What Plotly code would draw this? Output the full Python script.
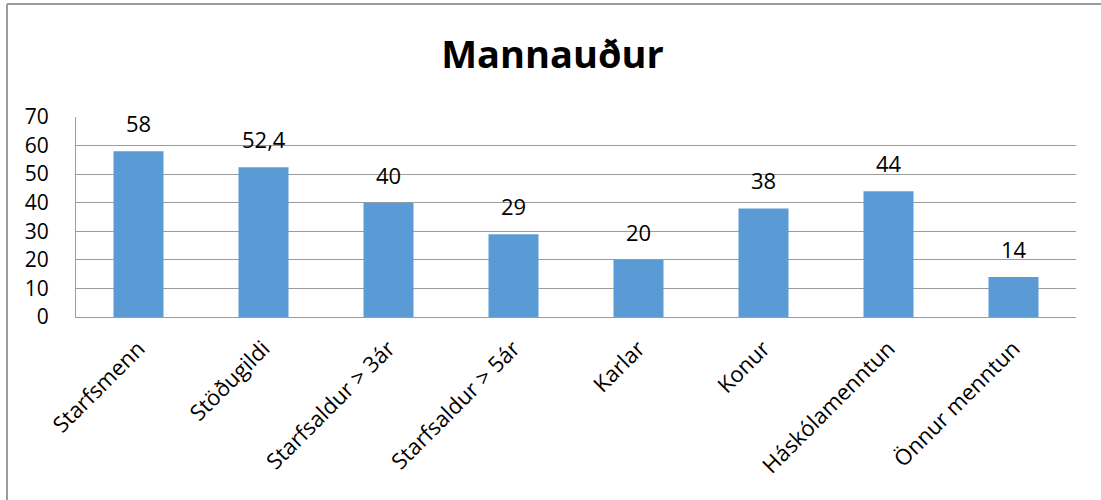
import plotly.graph_objects as go

categories = ["Starfsmenn", "Stöðugildi", "Starfsaldur > 3ár", "Starfsaldur > 5ár",
              "Karlar", "Konur", "Háskólamenntun", "Önnur menntun"]
values = [58, 52.4, 40, 29, 20, 38, 44, 14]
value_labels = ["58", "52,4", "40", "29", "20", "38", "44", "14"]
title_text = "Mannauður"

W, H = 1101, 500
FONT = "Open Sans"
GRID = "#9C9C9C"
L, R, T, B = 76, 25, 117, 183
PH = H - T - B
PW = W - L - R

fig = go.Figure(go.Bar(
    x=categories, y=values,
    marker=dict(color="#5B9BD5", line=dict(width=0)),
    hoverinfo="x+y",
))

for c, v, t in zip(categories, values, value_labels):
    fig.add_annotation(x=c, y=v, text=t, showarrow=False, yanchor="bottom",
                       xanchor="center", yshift=11,
                       font=dict(family=FONT, size=22, color="#000000"))

fig.update_layout(
    width=W, height=H,
    margin=dict(l=L, r=R, t=T, b=B, autoexpand=False),
    paper_bgcolor="white", plot_bgcolor="white",
    bargap=0.6,
    showlegend=False,
    title=dict(text="<b>%s</b>" % title_text, x=(W / 2 + 2) / W, xanchor="center",
               y=1 - 55 / H, yanchor="middle", yref="container",
               font=dict(family=FONT, size=38, color="#000000")),
    font=dict(family=FONT, size=20, color="#000000"),
)
fig.update_yaxes(range=[0, 70], dtick=10, showgrid=True, gridcolor=GRID, gridwidth=1,
                 showline=True, linecolor=GRID, linewidth=1, zeroline=False,
                 ticks="", automargin=False,
                 tickfont=dict(family=FONT, size=21, color="#000000"),
                 ticklabelstandoff=22)
fig.update_xaxes(showline=True, linecolor=GRID, linewidth=1, mirror=False,
                 tickangle=-45, ticks="", automargin=False, ticklabelstandoff=9,
                 tickfont=dict(family=FONT, size=22, color="#000000"))

# chart outer border (left and top edges visible)
bx = (7 - L) / PW
ty = (H - B - 4) / PH
fig.add_shape(type="line", xref="paper", yref="paper",
              x0=bx, x1=bx, y0=-B / PH, y1=ty,
              line=dict(color=GRID, width=2))
fig.add_shape(type="line", xref="paper", yref="paper",
              x0=bx, x1=(W - L + 5) / PW, y0=ty, y1=ty,
              line=dict(color=GRID, width=2))

fig.write_html("out.html", config={"displayModeBar": False},
               post_script="document.body.style.margin='0';document.body.style.overflow='hidden';")
